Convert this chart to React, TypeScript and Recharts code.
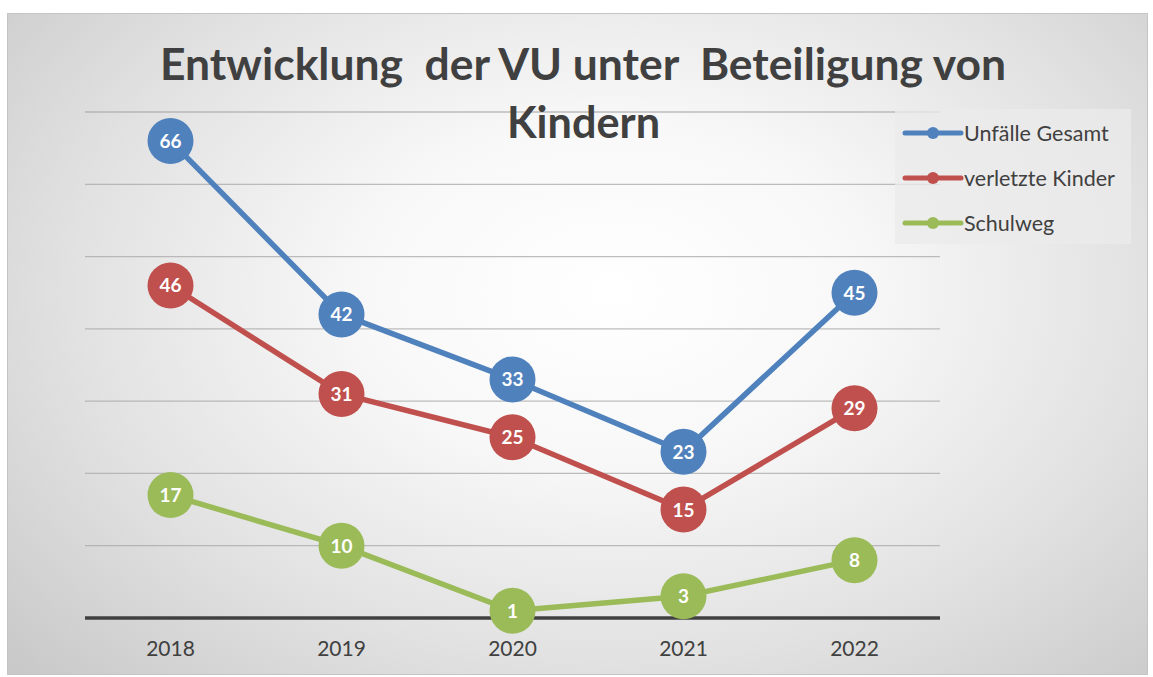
import { LineChart, Line, XAxis, YAxis, CartesianGrid, LabelList } from 'recharts';

const years = ['2018', '2019', '2020', '2021', '2022'];
const unfaelleGesamt = [66, 42, 33, 23, 45];
const verletzteKinder = [46, 31, 25, 15, 29];
const schulweg = [17, 10, 1, 3, 8];
const yTicks = [0, 10, 20, 30, 40, 50, 60, 70];

const seriesDefs = [
  { key: 'gesamt', name: 'Unfälle Gesamt', color: '#4F81BD' },
  { key: 'kinder', name: 'verletzte Kinder', color: '#C0504D' },
  { key: 'schulweg', name: 'Schulweg', color: '#9BBB59' },
];

const data = years.map((year, i) => ({
  year,
  gesamt: unfaelleGesamt[i],
  kinder: verletzteKinder[i],
  schulweg: schulweg[i],
}));

const FONT = 'Lato, "Noto Sans", sans-serif';
const TEXT = '#404040';

const PointLabel = (props: any) => {
  const { x, y, value } = props;
  return (
    <text x={x} y={y} dy={7} textAnchor="middle" fill="#ffffff" fontFamily={FONT} fontWeight={700} fontSize={19}>
      {value}
    </text>
  );
};

const YearTick = (props: any) => {
  const { x, y, payload } = props;
  return (
    <text x={x} y={y + 30} textAnchor="middle" fill={TEXT} fontFamily={FONT} fontSize={21}>
      {payload.value}
    </text>
  );
};

const LegendBox = () => (
  <div
    style={{
      position: 'absolute',
      left: 895,
      top: 109,
      width: 236,
      height: 135,
      background: 'rgba(235,235,235,0.75)',
      fontFamily: FONT,
      fontSize: 21.5,
      color: TEXT,
      paddingTop: 1,
      boxSizing: 'border-box',
    }}
  >
    {seriesDefs.map((s) => (
      <div key={s.key} style={{ display: 'flex', alignItems: 'center', height: 45 }}>
        <svg width={66} height={14} style={{ marginLeft: 6 }}>
          <line x1={4} y1={7} x2={60} y2={7} stroke={s.color} strokeWidth={5} strokeLinecap="round" />
          <circle cx={32} cy={7} r={6} fill={s.color} />
        </svg>
        <span style={{ marginLeft: -3, whiteSpace: 'nowrap' }}>{s.name}</span>
      </div>
    ))}
  </div>
);

export default function App() {
  return (
    <div style={{ position: 'absolute', left: 0, top: 0, width: 1153, height: 677, background: '#ffffff' }}>
      <div
        style={{
          position: 'absolute',
          left: 7,
          top: 13,
          width: 1141,
          height: 662,
          boxSizing: 'border-box',
          border: '1px solid #c4c4c4',
          background: 'radial-gradient(ellipse 72% 85% at 53% 42%, #ffffff 0%, #f8f8f8 30%, #e2e2e2 65%, #c8c8c8 100%)',
        }}
      />
      <div style={{ position: 'absolute', left: 0, top: 0 }}>
        <LineChart width={1153} height={677} data={data} margin={{ top: 112, right: 213, bottom: 29, left: 85 }}>
          <CartesianGrid vertical={false} stroke="#a8a8a8" strokeOpacity={0.75} strokeWidth={1.3} />
          <XAxis
            dataKey="year"
            height={30}
            padding={{ left: 85.5, right: 85.5 }}
            axisLine={{ stroke: '#404040', strokeWidth: 3.5 }}
            tickLine={false}
            tick={<YearTick />}
          />
          <YAxis hide domain={[0, 70]} ticks={yTicks} />
          {seriesDefs.map((s) => (
            <Line
              key={s.key}
              dataKey={s.key}
              name={s.name}
              type="linear"
              stroke={s.color}
              strokeWidth={5.5}
              dot={{ r: 23, fill: s.color, stroke: 'none' }}
              activeDot={false}
              isAnimationActive={false}
            >
              <LabelList dataKey={s.key} content={<PointLabel />} />
            </Line>
          ))}
        </LineChart>
      </div>
      <LegendBox />
      <svg width={1153} height={677} style={{ position: 'absolute', left: 0, top: 0, pointerEvents: 'none' }}>
        <text x={583} y={80} textAnchor="middle" fill={TEXT} fontFamily={FONT} fontWeight={700} fontSize={44} textLength={846} lengthAdjust="spacingAndGlyphs" style={{ whiteSpace: 'pre' }}>
          {'Entwicklung  der VU unter  Beteiligung von'}
        </text>
        <text x={583.5} y={138} textAnchor="middle" fill={TEXT} fontFamily={FONT} fontWeight={700} fontSize={44} textLength={153} lengthAdjust="spacingAndGlyphs">
          Kindern
        </text>
      </svg>
    </div>
  );
}
